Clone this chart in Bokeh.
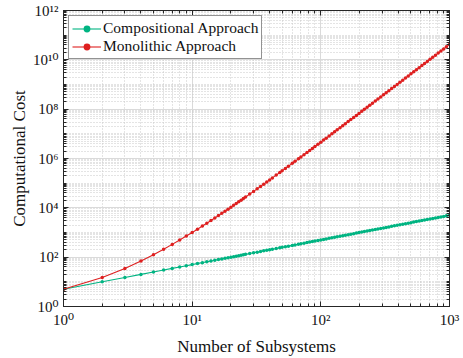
from bokeh.plotting import figure
from bokeh.models import LogAxis, FixedTicker, CustomJSTickFormatter, Legend, LegendItem
from bokeh.embed import file_html
from bokeh.resources import INLINE

# ---- data ----
subsystems = [1, 2, 3, 4, 5, 6, 7, 8, 9, 10, 11, 12, 13, 14, 15, 16, 17, 18, 19, 20,
              21, 22, 23, 24, 25, 26, 28, 30, 32, 34, 36, 38, 40, 42,
              45, 48, 50, 53, 56, 60, 63, 67, 70, 74, 78, 82, 86, 90, 95, 100,
              105, 110, 116, 122, 128, 134, 141, 148, 155, 163, 171, 180, 189, 198,
              208, 218, 229, 240, 252, 265, 278, 292, 307, 322, 338, 355, 373, 392,
              412, 433, 455, 478, 502, 527, 553, 581, 610, 640, 672, 706, 741, 778,
              817, 858, 901, 946, 1000]

compositional_cost = [5, 10, 15, 20, 25, 30, 35, 40, 45, 50, 55, 60, 65, 70, 75, 80, 85, 90, 95, 100,
                      105, 110, 115, 120, 125, 130, 140, 150, 160, 170, 180, 190, 200, 210,
                      225, 240, 250, 265, 280, 300, 315, 335, 350, 370, 390, 410, 430, 450, 475, 500,
                      525, 550, 580, 610, 640, 670, 705, 740, 775, 815, 855, 900, 945, 990,
                      1040, 1090, 1145, 1200, 1260, 1325, 1390, 1460, 1535, 1610, 1690, 1775, 1865, 1960,
                      2060, 2165, 2275, 2390, 2510, 2635, 2765, 2905, 3050, 3200, 3360, 3530, 3705, 3890,
                      4085, 4290, 4505, 4730, 5000]

monolithic_cost = [5, 15, 35, 70, 126, 210, 330, 495, 715, 1001, 1365, 1820, 2380, 3060, 3876,
                   4845, 5985, 7315, 8855, 10626,
                   12650, 14950, 17550, 20475, 23751, 27405, 35960, 46376, 58905, 73815, 91390,
                   111930, 135751, 163185,
                   211876, 270725, 316251, 395010, 487635, 635376, 766480, 971635, 1.15e6, 1.43e6,
                   1.75e6, 2.12e6, 2.56e6, 3.05e6, 3.76e6, 4.60e6,
                   5.56e6, 6.67e6, 8.21e6, 1.00e7, 1.21e7, 1.45e7, 1.77e7, 2.14e7, 2.56e7, 3.13e7,
                   3.78e7, 4.62e7, 5.60e7, 6.73e7,
                   8.18e7, 9.85e7, 1.20e8, 1.44e8, 1.75e8, 2.13e8, 2.58e8, 3.13e8, 3.82e8, 4.62e8,
                   5.60e8, 6.81e8, 8.28e8, 1.01e9,
                   1.23e9, 1.50e9, 1.83e9, 2.22e9, 2.70e9, 3.28e9, 3.97e9, 4.83e9, 5.86e9, 7.10e9,
                   8.62e9, 1.05e10, 1.27e10, 1.55e10, 1.88e10, 2.28e10, 2.78e10, 3.37e10, 4.21e10]

series_names = ["Compositional Approach", "Monolithic Approach"]
x_label = "Number of Subsystems"
y_label = "Computational Cost"

x_major_ticks = [1, 10, 100, 1000]
y_major_ticks = [1e0, 1e2, 1e4, 1e6, 1e8, 1e10, 1e12]

# ---- styling ----
GREEN = "#00b482"
RED = "#de1f1f"
FONT = "'Liberation Serif', 'DejaVu Serif', serif"
AX = "#262626"

x_minor_ticks = [m * 10 ** k for k in range(3) for m in range(2, 10)]
y_minor_ticks = [m * 10 ** k for k in range(12) for m in range(1, 10) if not (m == 1 and k % 2 == 0)]

p = figure(width=463, height=358, x_axis_type="log", y_axis_type="log",
           x_range=(1, 1000), y_range=(1, 1e12),
           output_backend="svg", toolbar_location=None,
           min_border_left=63, min_border_right=14, min_border_top=10, min_border_bottom=46)
p.background_fill_color = "white"
p.border_fill_color = "white"
p.outline_line_color = AX
p.outline_line_width = 1

xt = FixedTicker(ticks=x_major_ticks, minor_ticks=x_minor_ticks)
yt = FixedTicker(ticks=y_major_ticks, minor_ticks=y_minor_ticks)

sup_code = """
const sup = {"0":"\u2070","1":"\u00b9","2":"\u00b2","3":"\u00b3","4":"\u2074","5":"\u2075",
             "6":"\u2076","7":"\u2077","8":"\u2078","9":"\u2079","-":"\u207b"};
const e = Math.round(Math.log10(tick));
return "10" + String(e).split("").map(c => sup[c]).join("");
"""
fmt = CustomJSTickFormatter(code=sup_code)
blank = CustomJSTickFormatter(code="return '';")


def style_axis(ax, ticker, formatter, labels=True):
    ax.ticker = ticker
    ax.formatter = formatter
    ax.axis_line_color = AX
    ax.axis_line_width = 1
    ax.major_tick_line_color = AX
    ax.minor_tick_line_color = AX
    ax.major_tick_in = 5
    ax.major_tick_out = 0
    ax.minor_tick_in = 3
    ax.minor_tick_out = 0
    ax.major_label_text_font = FONT
    ax.major_label_text_color = "#111111"
    ax.axis_label_text_font = FONT
    ax.axis_label_text_font_style = "normal"
    ax.axis_label_text_color = "#111111"
    if labels:
        ax.major_label_text_font_size = "15px"
        ax.axis_label_text_font_size = "17px"
    else:
        ax.major_label_text_font_size = "1px"
        ax.major_label_standoff = 0


style_axis(p.xaxis[0], xt, fmt)
style_axis(p.yaxis[0], yt, fmt)
p.xaxis[0].axis_label = x_label
p.yaxis[0].axis_label = y_label
p.xaxis[0].major_label_standoff = 5
p.yaxis[0].major_label_standoff = 5
p.xaxis[0].axis_label_standoff = 6
p.yaxis[0].axis_label_standoff = 1

top_ax = LogAxis()
right_ax = LogAxis()
style_axis(top_ax, xt, blank, labels=False)
style_axis(right_ax, yt, blank, labels=False)
p.add_layout(top_ax, "above")
p.add_layout(right_ax, "right")

for g, t in ((p.xgrid[0], xt), (p.ygrid[0], yt)):
    g.ticker = t
    g.grid_line_color = "#dadada"
    g.grid_line_width = 1
    g.minor_grid_line_color = "#c8c8c8"
    g.minor_grid_line_dash = "1 2"
    g.minor_grid_line_width = 1

l1 = p.line(subsystems, compositional_cost, line_color=GREEN, line_width=1.1)
s1 = p.scatter(subsystems, compositional_cost, marker="circle", size=3.5,
               fill_color=GREEN, line_color=GREEN, line_width=0)
l2 = p.line(subsystems, monolithic_cost, line_color=RED, line_width=1.1)
s2 = p.scatter(subsystems, monolithic_cost, marker="circle", size=3.5,
               fill_color=RED, line_color=RED, line_width=0)

legend = Legend(items=[LegendItem(label=series_names[0], renderers=[l1, s1]),
                       LegendItem(label=series_names[1], renderers=[l2, s2])],
                location="top_left")
legend.margin = 5
legend.padding = 3
legend.spacing = 0
legend.glyph_width = 29
legend.glyph_height = 17
legend.label_height = 17
legend.label_standoff = 2
legend.label_text_font = FONT
legend.label_text_font_size = "15.5px"
legend.label_text_color = "#111111"
legend.border_line_color = AX
legend.border_line_width = 1
legend.background_fill_color = "white"
legend.background_fill_alpha = 1
p.add_layout(legend)

open("out.html", "w").write(file_html(p, INLINE))
